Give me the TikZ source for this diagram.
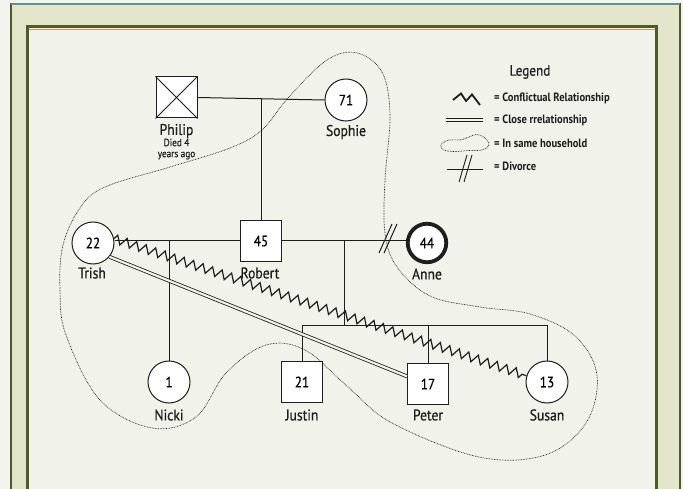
\documentclass[tikz,border=0pt]{standalone}
\usepackage{fontspec}
\setmainfont[FakeStretch=0.88]{PT Sans}
\newfontfamily\lblfont[FakeStretch=0.88,FakeBold=0.6]{PT Sans}
\usetikzlibrary{decorations.pathmorphing}
\definecolor{pagebg}{HTML}{F3F4EE}
\definecolor{bandbg}{HTML}{E3E6CB}
\definecolor{panelbg}{HTML}{F1F2EA}
\definecolor{olive}{HTML}{4E5B28}
\definecolor{tealline}{HTML}{5E8E98}
\definecolor{orangeline}{HTML}{C99A55}
\definecolor{ink}{HTML}{1E1E1E}
\tikzset{
  famsq/.style={rectangle, draw=ink, line width=1pt, fill=white, minimum size=41pt, inner sep=0pt, font=\lblfont\fontsize{15}{15}\selectfont},
  famcirc/.style={circle, draw=ink, line width=1pt, fill=white, minimum size=42pt, inner sep=0pt, font=\lblfont\fontsize{15}{15}\selectfont},
  famlbl/.style={inner sep=0pt, text=ink, font=\lblfont\fontsize{15.5}{15.5}\selectfont},
  smalllbl/.style={inner sep=0pt, text=ink, align=center, font=\lblfont\fontsize{10.5}{11}\selectfont},
  lgtxt/.style={inner sep=0pt, anchor=west, text=ink, font=\bfseries\fontsize{12}{12}\selectfont},
  famline/.style={draw=ink, line width=1pt},
  zz/.style={draw=ink, line width=1.2pt, decorate, decoration={zigzag, segment length=10pt, amplitude=4.3pt}},
  closeln/.style={draw=ink, line width=0.8pt, double=panelbg, double distance=2.2pt},
  hh/.style={draw=ink, line width=0.7pt, dash pattern=on 0.7pt off 0.9pt},
}
\begin{document}
\begin{tikzpicture}[x=1pt,y=-1pt]
\useasboundingbox (0,0) rectangle (683,489);
% page frame
\fill[pagebg] (0,0) rectangle (683,489);
\fill[bandbg] (11,4) rectangle (680,495);
\draw[olive, line width=2.5pt] (11,495) -- (11,4) -- (680,4) -- (680,495);
\draw[tealline, line width=1.5pt] (11,4) -- (680,4);
\fill[panelbg] (27,27) rectangle (656,495);
\draw[orangeline, line width=1pt] (28.5,29.5) -- (654.5,29.5);
\draw[olive, line width=3pt] (27,495) -- (27,27) -- (656,27) -- (656,495);

% household boundary
\draw[hh] plot[smooth cycle, tension=0.6] coordinates {
 (357,53) (382,72) (390,115) (385,180) (385,233) (397,267) (430,296)
 (480,307) (530,314) (575,336) (597,375) (586,423) (545,455) (479,457)
 (392,423) (348,387) (305,350) (266,345) (226,373) (196,417) (152,428)
 (100,400) (66,335) (60,290) (63,245) (80,208) (105,187) (170,167)
 (230,148) (262,130) (288,98) (327,60)};

% people
\node[famsq] (philip) at (176.5,97.5) {};
\draw[ink, line width=0.8pt] (philip.north west) -- (philip.south east)
  (philip.north east) -- (philip.south west);
\node[famcirc] (sophie) at (346,100) {71};
\node[famsq] (robert) at (261,241) {45};
\node[famcirc] (trish) at (93,243) {22};
\node[famcirc, line width=3.8pt, minimum size=38.5pt] (anne) at (427,243) {44};
\node[famcirc] (nicki) at (169,382) {1};
\node[famsq] (justin) at (302,382) {21};
\node[famsq] (peter) at (428,384) {17};
\node[famcirc] (susan) at (547,382) {13};

% labels
\node[famlbl] (lphilip) at (176.5,131) {Philip};
\node[smalllbl, anchor=north] (ldied) at (176.5,138.5) {Died 4\\years ago};
\node[famlbl] (lsophie) at (346,132) {Sophie};
\node[famlbl] (ltrish) at (92,273) {Trish};
\node[famlbl] (lrobert) at (260,273) {Robert};
\node[famlbl] (lanne) at (427,274) {Anne};
\node[famlbl] (lnicki) at (169,415) {Nicki};
\node[famlbl] (ljustin) at (302,415) {Justin};
\node[famlbl] (lpeter) at (428,415) {Peter};
\node[famlbl] (lsusan) at (547,415) {Susan};

% family lines
\coordinate (pj) at (261,98);
\coordinate (tj) at (169,240);
\coordinate (aj) at (344,240);
\coordinate (sj) at (344,325);
\coordinate (bl) at (302,325);
\coordinate (br) at (547,325);
\draw[famline] (philip.east) -- (sophie.west);
\draw[famline] (pj) -- (robert.north);
\draw[famline] (trish.east |- robert.west) -- (robert.west);
\draw[famline] (robert.east) -- (anne.west |- robert.east);
\draw[famline] (tj) -- (nicki.north);
\draw[famline] (aj) -- (sj);
\draw[famline] (bl) -- (br);
\draw[famline] (bl) -- (justin.north);
\draw[famline] (peter.north |- bl) -- (peter.north);
\draw[famline] (br) -- (susan.north);

% divorce mark
\coordinate (dv1a) at (379,253); \coordinate (dv1b) at (392,224);
\coordinate (dv2a) at (384,253); \coordinate (dv2b) at (397,224);
\draw[ink, line width=1pt] (dv1a) -- (dv1b) (dv2a) -- (dv2b);

% relationships
\draw[zz] (trish.12) -- (susan.163);
\draw[closeln] (trish.-40) -- (peter.160);

% legend
\node[inner sep=0pt, text=ink, font=\lblfont\fontsize{15}{15}\selectfont] (legend) at (530,72) {Legend};
\coordinate (lz1) at (453,100); \coordinate (lz2) at (461,93.5);
\coordinate (lz3) at (466,101); \coordinate (lz4) at (472,94.5);
\coordinate (lz5) at (480,105);
\draw[ink, line width=1.8pt, line join=miter] (lz1) -- (lz2) -- (lz3) -- (lz4) -- (lz5);
\node[lgtxt] (lg1) at (494,98) {= Conflictual Relationship};
\coordinate (lc1) at (446,120); \coordinate (lc2) at (483,120);
\draw[closeln, line width=0.9pt, double distance=2pt] (lc1) -- (lc2);
\node[lgtxt] (lg2) at (494,120) {= Close rrelationship};
\draw[hh] plot[smooth cycle, tension=0.7] coordinates {
 (441,145) (449,140) (460,140) (469,137) (477,134.5) (485,138) (489,145)
 (482,150) (468,150.5) (455,151.5) (444,150)};
\node[lgtxt] (lg3) at (494,143) {= In same household};
\coordinate (ld1) at (447,169); \coordinate (ld2) at (483,169);
\draw[ink, line width=0.9pt] (ld1) -- (ld2);
\coordinate (ls1a) at (459,182); \coordinate (ls1b) at (467,155);
\coordinate (ls2a) at (464,182); \coordinate (ls2b) at (472,155);
\draw[ink, line width=0.9pt] (ls1a) -- (ls1b) (ls2a) -- (ls2b);
\node[lgtxt] (lg4) at (494,166) {= Divorce};
\end{tikzpicture}
\end{document}
